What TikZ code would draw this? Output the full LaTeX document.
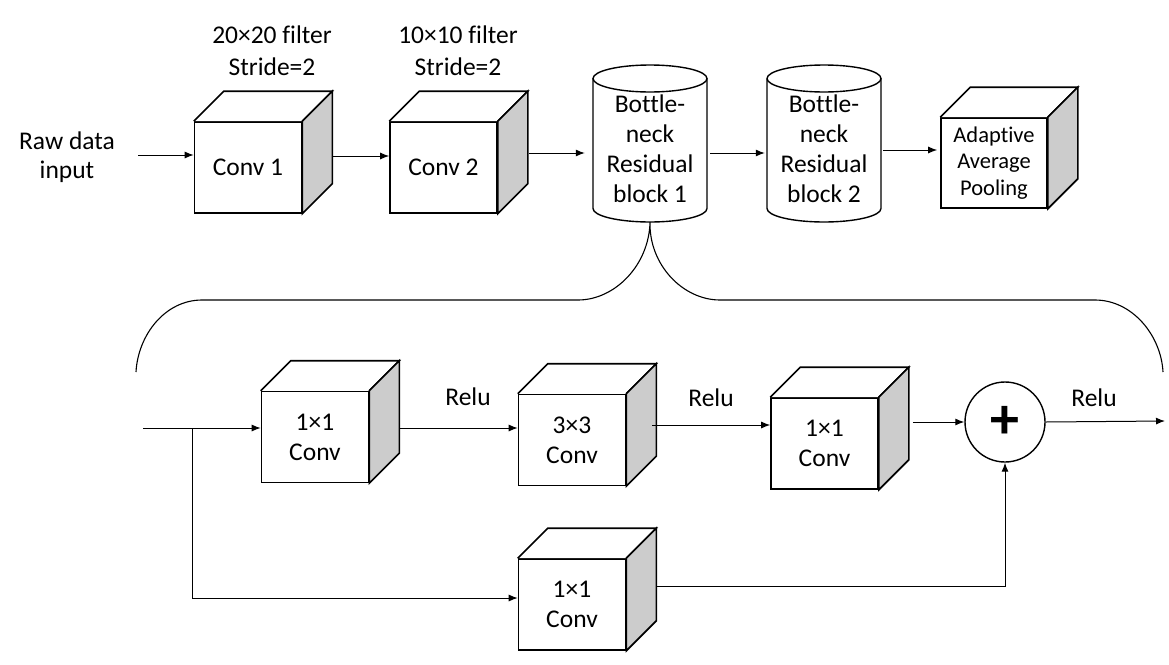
\documentclass[tikz,border=0pt]{standalone}
\usepackage{fontspec}
\setmainfont[Ligatures=NoCommon]{Carlito}
\usepackage{tikz}
\usetikzlibrary{arrows.meta,calc}

\begin{document}
\begin{tikzpicture}[x=1pt,y=-1pt,>={Latex[length=9pt,width=7pt]},
  font=\fontsize{25.5}{30}\selectfont,
  face/.style={draw,line width=1.6pt,fill=white,minimum width=107pt,minimum height=91pt,inner sep=0pt,align=center},
  cyl/.style={minimum width=114pt,minimum height=146pt,inner sep=0pt,align=center},
  link/.style={->,line width=1pt}]
\useasboundingbox (0,0) rectangle (1169,664);

% top row
\node[align=center,font=\fontsize{25.5}{29}\selectfont] (raw) at (67,157) {Raw data\\input};
\node[align=center,font=\fontsize{25.5}{32}\selectfont] (f1) at (272,51) {20×20 filter\\Stride=2};
\node[align=center,font=\fontsize{25.5}{32}\selectfont] (f2) at (458,51) {10×10 filter\\Stride=2};
\node[face] (conv1) at (248,167.5) {Conv 1};
\node[face] (conv2) at (443.5,167.5) {Conv 2};
\node[cyl] (res1) at (650,149) {Bottle-\\neck\\Residual\\block 1};
\node[cyl] (res2) at (824,149) {Bottle-\\neck\\Residual\\block 2};
\node[face,minimum width=106pt,minimum height=90pt,font=\fontsize{22.5}{26.5}\selectfont] (pool) at (994,163) {Adaptive\\Average\\Pooling};

% residual block
\node[face] (ca) at (315,437) {1×1\\Conv};
\node[face] (cb) at (572,440) {3×3\\Conv};
\node[face] (cc) at (824.5,443.5) {1×1\\Conv};
\node[face] (cd) at (572,604.5) {1×1\\Conv};
\node[draw,circle,line width=1.4pt,minimum size=80pt,inner sep=0pt,font=\fontsize{58}{58}\selectfont\bfseries] (plus) at (1005,422) {+};
\node (r1) at (468,397) {Relu};
\node (r2) at (711,398) {Relu};
\node (r3) at (1094,398) {Relu};
\coordinate (in) at (143,428);
\coordinate (split) at (192,428);
\coordinate (out) at (1165,421);

% cube depth
\foreach \n in {conv1,conv2,pool,ca,cb,cc,cd} {
  \draw[line width=1.6pt,fill=white] (\n.north west) -- ++(30,-30) -- ($(\n.north east)+(30,-30)$) -- (\n.north east);
  \draw[line width=1.6pt,fill=black!20] (\n.north east) -- ++(30,-30) -- ($(\n.south east)+(30,-30)$) -- (\n.south east) -- cycle;
}

% cylinders
\foreach \n in {res1,res2} {
  \draw[line width=1.4pt] (\n.center) ++(-57,-70.5) -- ++(0,130) arc[start angle=180,end angle=0,x radius=57,y radius=13.5] -- ++(0,-130);
  \draw[line width=1.4pt] (\n.center) ++(0,-70.5) ellipse [x radius=57,y radius=13.5];
}

\draw[link] ([xshift=20pt,yshift=2pt]raw.east) -- ([yshift=12.5pt]conv1.west);
\draw[link] ([xshift=31pt,yshift=11.5pt]conv1.east) -- ([yshift=11.5pt]conv2.west);
\draw[link] ([xshift=31pt,yshift=14.5pt]conv2.east) -- ([xshift=-8pt,yshift=-4pt]res1.west);
\draw[link] ([xshift=3pt,yshift=-4pt]res1.east) -- ([xshift=-2pt,yshift=-4pt]res2.west);
\draw[link] ([xshift=2pt,yshift=-1pt]res2.east) -- ([xshift=-3pt,yshift=13pt]pool.west);

% brace
\draw[line width=1.1pt] (136,372) .. controls (138,335) and (165,300) .. (202,300) -- (578,300)
  .. controls (615,300) and (649,265) .. (res1.south)
  .. controls (649,265) and (683,300) .. (720,300) -- (1095,300)
  .. controls (1132,300) and (1161,335) .. (1163,372);

\draw[link] (in) -- ([yshift=9pt]ca.west);
\draw[link] (split) |- ([yshift=6.5pt]cd.west);
\draw[link] ([xshift=30pt,yshift=9pt]ca.east) -- ([yshift=12pt]cb.west);
\draw[link] ([xshift=26pt,yshift=15pt]cb.east) -- ([yshift=18.5pt]cc.west);
\draw[link] ([xshift=34pt,yshift=21.5pt]cc.east) -- (plus.west);
\draw[link] ([xshift=30pt,yshift=18.5pt]cd.east) -| (plus.south);
\draw[link] (plus.east) -- (out);
\end{tikzpicture}
\end{document}
